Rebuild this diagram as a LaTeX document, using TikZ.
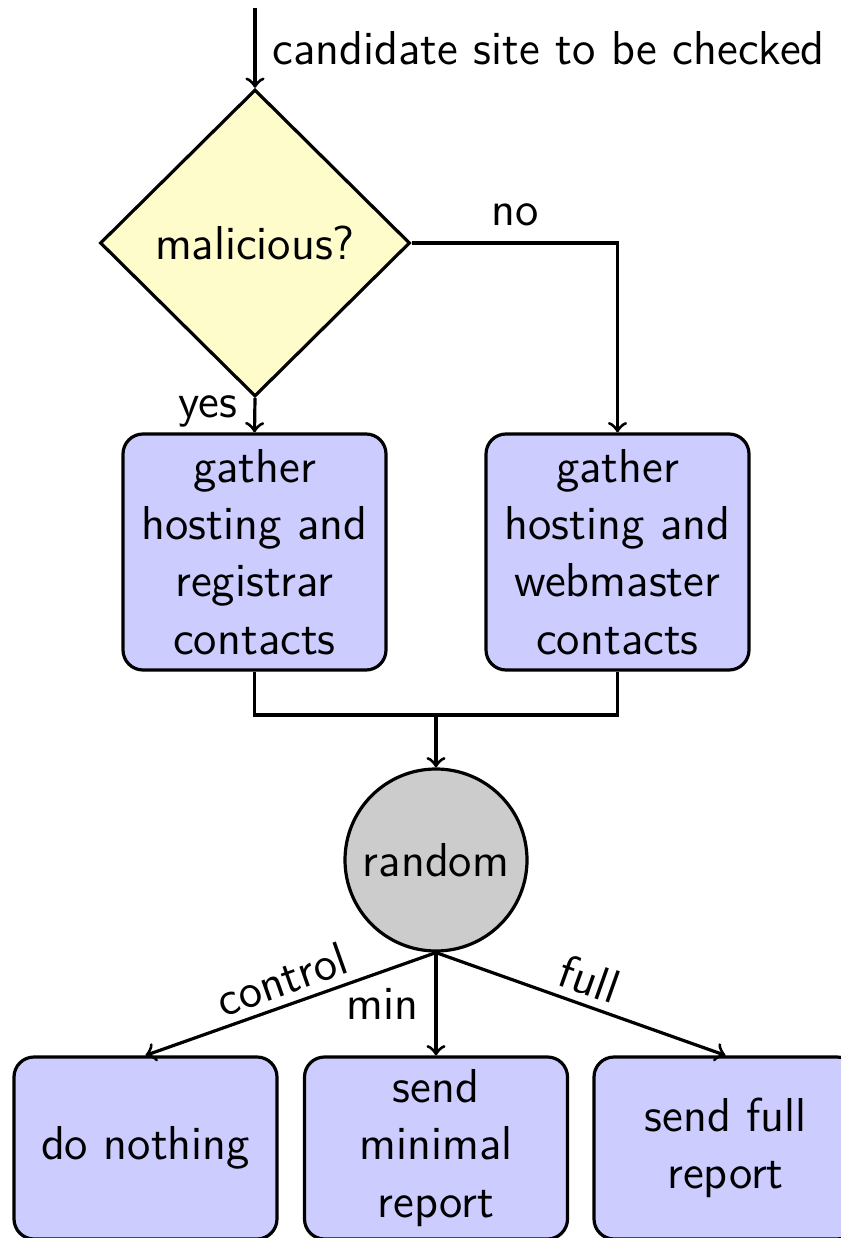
\documentclass[tikz,border=0pt]{standalone}
\usetikzlibrary{shapes.geometric}
\begin{document}
\begin{tikzpicture}[x=0.25pt,y=-0.25pt,
  every node/.style={font=\sffamily\fontsize{11.9}{14.3}\selectfont},
  conn/.style={line width=0.8pt},
  decision/.style={diamond,draw,line width=0.8pt,fill=yellow!20,minimum width=77.5pt,minimum height=76.75pt,inner sep=0pt},
  stepbox/.style={rectangle,rounded corners=5pt,draw,line width=0.8pt,fill=blue!20,minimum width=65.75pt,align=center,inner sep=0pt},
  chance/.style={circle,draw,line width=0.8pt,fill=black!20,minimum size=45.5pt,inner sep=0pt},
  lbl/.style={inner sep=2pt}]
\useasboundingbox (0,0) rectangle (841,1238);
\coordinate (start) at (255,8);
\node[decision] (dia) at (255,243) {malicious?};
\node[stepbox,minimum height=59pt] (g1) at (254.5,552) {gather\\hosting and\\registrar\\contacts};
\node[stepbox,minimum height=59pt] (g2) at (617.5,552) {gather\\hosting and\\webmaster\\contacts};
\node[chance] (rnd) at (436,860) {random};
\node[stepbox,minimum height=45.5pt] (b1) at (145.5,1148) {do nothing};
\node[stepbox,minimum height=45.5pt] (b2) at (436,1148) {send\\minimal\\report};
\node[stepbox,minimum height=45.5pt] (b3) at (725.5,1148) {send full\\report};
\coordinate (j) at (436,715);
\draw[conn,->] (start) -- (dia.north);
\node[lbl,anchor=west] (cand) at (264,48) {candidate site to be checked};
\draw[conn,->] (dia.east) -| (g2.north);
\node[lbl] (no) at (515,215) {no};
\draw[conn,->] (dia.south) -- (g1.north);
\node[lbl] (yes) at (208,411) {yes};
\draw[conn] (g1.south) |- (j) -| (g2.south);
\draw[conn,->] (j) -- (rnd.north);
\draw[conn,->] (rnd.south) -- (b1.north) node[midway,above,sloped,lbl] {control};
\draw[conn,->] (rnd.south) -- (b2.north) node[midway,left,lbl,xshift=-2pt] {min};
\draw[conn,->] (rnd.south) -- (b3.north) node[midway,above,sloped,lbl] {full};
\end{tikzpicture}
\end{document}
